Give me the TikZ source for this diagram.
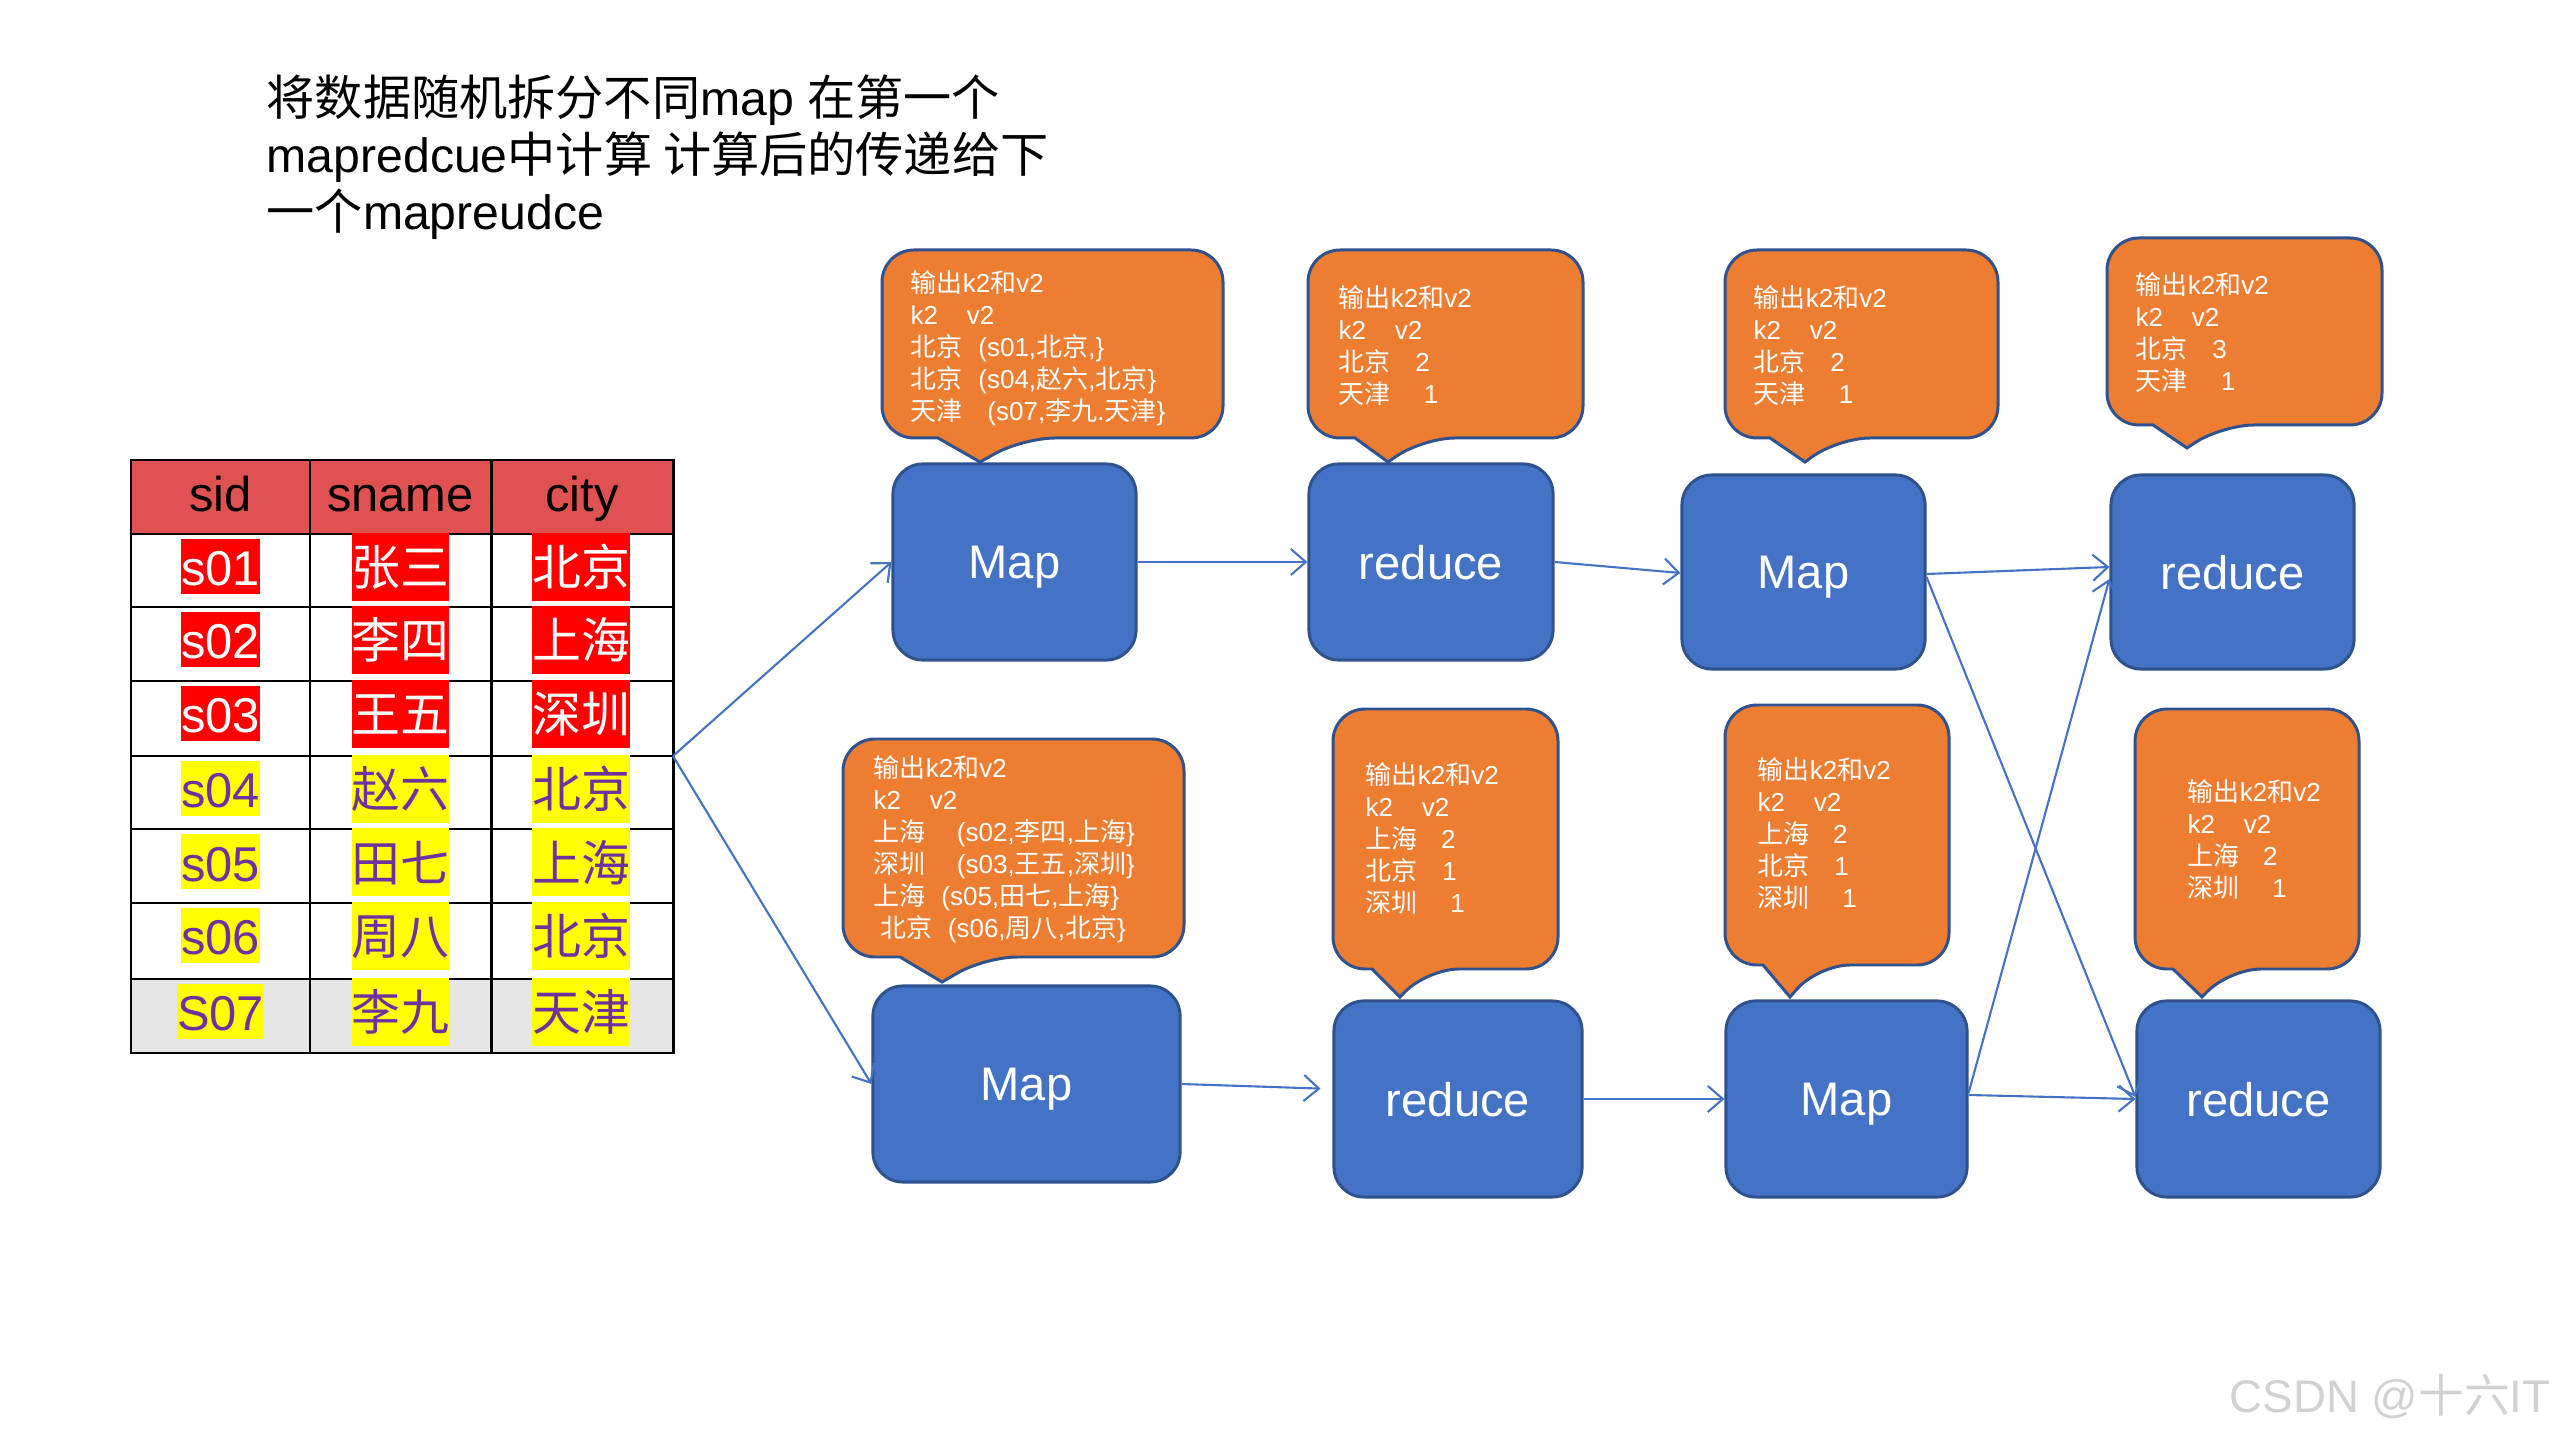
\documentclass[tikz,border=0pt]{standalone}
\usepackage{fontspec}
\setmainfont{Liberation Sans}
\newfontfamily\cjk{Noto Sans CJK SC}
\usetikzlibrary{arrows.meta}
\newcommand\ZH[1]{{\cjk #1}}
\definecolor{boxblue}{HTML}{4472C4}
\definecolor{boxedge}{HTML}{2F528F}
\definecolor{calorange}{HTML}{ED7D31}
\definecolor{hdrred}{HTML}{E05252}
\definecolor{purp}{HTML}{7030A0}
\definecolor{rowgray}{HTML}{E7E6E6}
\definecolor{hlred}{HTML}{FF0000}
\definecolor{hlyel}{HTML}{FFFF00}
% callout: x1,y1,x2,y2,pointer base left,pointer base right,tip x,tip y
\newcommand\callout[8]{\draw[callbox] (#5,#4) [rounded corners=0.32cm] -- (#1,#4) -- (#1,#2) -- (#3,#2) -- (#3,#4) -- (#6,#4) [sharp corners] -- (#7,#8) -- cycle;}
\begin{document}
\begin{tikzpicture}[x=0.01cm,y=-0.01cm,
  mr/.style={draw=boxedge, fill=boxblue, line width=0.85pt, rounded corners=0.3cm,
    text=white, font=\fontsize{13.4}{16}\selectfont, inner sep=0pt, text depth=0pt},
  callbox/.style={draw=boxedge, fill=calorange, line width=0.85pt},
  calltext/.style={text=white, align=left, inner sep=0pt, anchor=north west,
    font=\fontsize{7.4}{9.1}\selectfont},
  flow/.style={draw=boxblue, line width=0.6pt, -{Straight Barb[length=0.15cm,width=0.26cm]}},
  tabline/.style={draw=black, line width=0.85pt},
  cell/.style={font=\fontsize{13.9}{16}\selectfont, inner sep=0pt, anchor=base},
  hlsid/.style={cell, inner xsep=0pt, inner ysep=0pt, text height=0.47cm, text depth=0.08cm},
  hlzh/.style={cell, inner xsep=0pt, inner ysep=0pt, text height=0.53cm, text depth=0.15cm},
  redc/.style={fill=hlred, text=white},
  yelc/.style={fill=hlyel, text=purp}]
\useasboundingbox (0,0) rectangle (2560,1440);

% title
\node[anchor=north west, align=left, inner sep=0pt, font=\fontsize{13.7}{16.2}\selectfont] (title) at (266,74)
  {\ZH{将数据随机拆分不同}map \ZH{在第一个}\\
   mapredcue\ZH{中计算 计算后的传递给下}\\
   \ZH{一个}mapreudce};

% table
\fill[hdrred] (131,460) rectangle (673,534);
\fill[rowgray] (131,979) rectangle (673,1053);
\draw[tabline] (131,460) rectangle (673,1053);
\foreach \xx in {310,491} \draw[tabline] (\xx,460) -- (\xx,1053);
\foreach \yy in {534,607,681,756,829,903,979} \draw[tabline] (131,\yy) -- (673,\yy);
\node[cell] (h1) at (220.5,512) {sid};
\node[cell] (h2) at (400.5,512) {sname};
\node[cell] (h3) at (582,512) {city};

\node[hlsid,redc] (a1) at (220.5,586) {s01};
\node[hlzh,redc] (b1) at (400.5,586) {\ZH{张三}};
\node[hlzh,redc] (c1) at (581,586) {\ZH{北京}};
\node[hlsid,redc] (a2) at (220.5,659) {s02};
\node[hlzh,redc] (b2) at (400.5,659) {\ZH{李四}};
\node[hlzh,redc] (c2) at (581,659) {\ZH{上海}};
\node[hlsid,redc] (a3) at (220.5,733) {s03};
\node[hlzh,redc] (b3) at (400.5,733) {\ZH{王五}};
\node[hlzh,redc] (c3) at (581,733) {\ZH{深圳}};
\node[hlsid,yelc] (a4) at (220.5,808) {s04};
\node[hlzh,yelc] (b4) at (400.5,808) {\ZH{赵六}};
\node[hlzh,yelc] (c4) at (581,808) {\ZH{北京}};
\node[hlsid,yelc] (a5) at (220.5,881) {s05};
\node[hlzh,yelc] (b5) at (400.5,881) {\ZH{田七}};
\node[hlzh,yelc] (c5) at (581,881) {\ZH{上海}};
\node[hlsid,yelc] (a6) at (220.5,955) {s06};
\node[hlzh,yelc] (b6) at (400.5,955) {\ZH{周八}};
\node[hlzh,yelc] (c6) at (581,955) {\ZH{北京}};
\node[hlsid,yelc] (a7) at (220.5,1031) {S07};
\node[hlzh,yelc] (b7) at (400.5,1031) {\ZH{李九}};
\node[hlzh,yelc] (c7) at (581,1031) {\ZH{天津}};
\coordinate (tabR) at (673,756);

% callouts
\callout{882}{250}{1223}{438}{938}{1023}{980}{462}
\callout{1308}{250}{1583}{438}{1355}{1423}{1388}{462}
\callout{1725}{250}{1998}{438}{1770}{1838}{1805}{462}
\callout{2107}{238}{2382}{425}{2153}{2222}{2187}{448}
\callout{843}{739}{1184}{957}{900}{985}{942}{982}
\callout{1333}{709}{1558}{969}{1372}{1427}{1400}{997}
\callout{1725}{705}{1949}{965}{1763}{1818}{1790}{997}
\callout{2135}{709}{2359}{969}{2173}{2229}{2202}{997}

\node[calltext] (t1) at (910,270) {\ZH{输出}k2\ZH{和}v2\\ k2\hspace{1.1em}v2\\
  \ZH{北京}\hspace{0.6em}(s01,\ZH{北京},\}\\
  \ZH{北京}\hspace{0.6em}(s04,\ZH{赵六},\ZH{北京}\}\\
  \ZH{天津}\hspace{0.95em}(s07,\ZH{李九}.\ZH{天津}\}};
\node[calltext] (t2) at (1338,285) {\ZH{输出}k2\ZH{和}v2\\ k2\hspace{1.1em}v2\\
  \ZH{北京}\hspace{0.95em}2\\ \ZH{天津}\hspace{1.27em}1};
\node[calltext] (t3) at (1753,285) {\ZH{输出}k2\ZH{和}v2\\ k2\hspace{1.1em}v2\\
  \ZH{北京}\hspace{0.95em}2\\ \ZH{天津}\hspace{1.27em}1};
\node[calltext] (t4) at (2135,272) {\ZH{输出}k2\ZH{和}v2\\ k2\hspace{1.1em}v2\\
  \ZH{北京}\hspace{0.95em}3\\ \ZH{天津}\hspace{1.27em}1};
\node[calltext] (t5) at (873,755) {\ZH{输出}k2\ZH{和}v2\\ k2\hspace{1.1em}v2\\
  \ZH{上海}\hspace{1.2em}(s02,\ZH{李四},\ZH{上海}\}\\
  \ZH{深圳}\hspace{1.2em}(s03,\ZH{王五},\ZH{深圳}\}\\
  \ZH{上海}\hspace{0.6em}(s05,\ZH{田七},\ZH{上海}\}\\
  \hspace{0.25em}\ZH{北京}\hspace{0.6em}(s06,\ZH{周八},\ZH{北京}\}};
\node[calltext] (t6) at (1365,762) {\ZH{输出}k2\ZH{和}v2\\ k2\hspace{1.1em}v2\\
  \ZH{上海}\hspace{0.9em}2\\ \ZH{北京}\hspace{0.95em}1\\ \ZH{深圳}\hspace{1.25em}1};
\node[calltext] (t7) at (1757,757) {\ZH{输出}k2\ZH{和}v2\\ k2\hspace{1.1em}v2\\
  \ZH{上海}\hspace{0.9em}2\\ \ZH{北京}\hspace{0.95em}1\\ \ZH{深圳}\hspace{1.25em}1};
\node[calltext] (t8) at (2187,779) {\ZH{输出}k2\ZH{和}v2\\ k2\hspace{1.1em}v2\\
  \ZH{上海}\hspace{0.9em}2\\ \ZH{深圳}\hspace{1.25em}1};

% map / reduce boxes
\node[mr, minimum width=2.43cm, minimum height=1.96cm] (m1) at (1014.5,562) {Map};
\node[mr, minimum width=2.44cm, minimum height=1.96cm] (r1) at (1431,562) {reduce};
\node[mr, minimum width=2.43cm, minimum height=1.94cm] (m2) at (1803.5,572) {Map};
\node[mr, minimum width=2.43cm, minimum height=1.94cm] (r2) at (2232.5,572) {reduce};
\node[mr, minimum width=3.07cm, minimum height=1.96cm] (mb1) at (1026.5,1084) {Map};
\node[mr, minimum width=2.48cm, minimum height=1.96cm] (rb1) at (1458,1099) {reduce};
\node[mr, minimum width=2.41cm, minimum height=1.96cm] (mb2) at (1846.5,1099) {Map};
\node[mr, minimum width=2.43cm, minimum height=1.96cm] (rb2) at (2258.5,1099) {reduce};

% connectors
\draw[flow] (tabR) -- (m1.west);
\draw[flow] (tabR) -- (mb1.west);
\draw[flow] (m1.east) -- (r1.west);
\draw[flow] (r1.east) -- ([yshift=-0.01cm]m2.west);
\draw[flow] ([yshift=-0.02cm]m2.east) -- ([yshift=0.05cm]r2.west);
\draw[flow] ([yshift=-0.05cm]m2.east) -- ([yshift=0.02cm]rb2.west);
\draw[flow, shorten >=0.12cm] (mb1.east) -- ([yshift=0.10cm]rb1.west);
\draw[flow] (rb1.east) -- (mb2.west);
\draw[flow] ([yshift=0.06cm]mb2.east) -- ([yshift=-0.07cm]r2.west);
\draw[flow] ([yshift=0.04cm]mb2.east) -- (rb2.west);

% watermark
\node[anchor=west, inner sep=0pt, text=black!18, font=\fontsize{13}{15}\selectfont] (wm) at (2229,1396) {CSDN @\ZH{十六}IT};
\end{tikzpicture}
\end{document}
